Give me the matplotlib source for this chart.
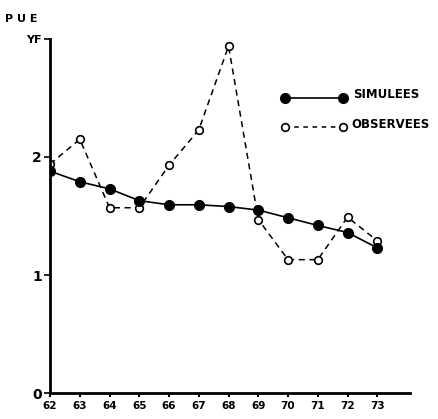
import matplotlib
matplotlib.use("Agg")
import matplotlib.pyplot as plt

years = [62, 63, 64, 65, 66, 67, 68, 69, 70, 71, 72, 73]
year_labels = [str(y) for y in years]
simulees = [1.88, 1.79, 1.73, 1.63, 1.595, 1.595, 1.58, 1.55, 1.485, 1.42, 1.36, 1.23]
observees = [1.94, 2.15, 1.57, 1.57, 1.93, 2.23, 2.94, 1.47, 1.13, 1.13, 1.49, 1.29]
y_ticks = [0, 1, 2, 3]
y_tick_labels = ["0", "1", "2", "YF"]

plt.rcParams["font.family"] = ["DejaVu Sans"]
plt.rcParams["font.weight"] = "bold"

fig = plt.figure(figsize=(4.39, 4.19), dpi=100)
ax = fig.add_axes([0.114, 0.062, 0.82, 0.845])

ax.plot(years, observees, linestyle=(0, (4, 3)), color="black", lw=1.1,
        marker="o", markersize=5.5, markerfacecolor="white",
        markeredgecolor="black", markeredgewidth=1.2, zorder=2)
ax.plot(years, simulees, linestyle="-", color="black", lw=1.2,
        marker="o", markersize=7, markerfacecolor="black",
        markeredgecolor="black", zorder=3)

ax.set_xlim(62, 74.1)
ax.set_ylim(0, 3)
ax.set_xticks(years)
ax.set_xticklabels(year_labels, fontsize=7.5, fontweight="bold")
ax.set_yticks(y_ticks)
ax.set_yticklabels(y_tick_labels, fontsize=10, fontweight="bold")
for lbl in ax.get_yticklabels()[-1:]:
    lbl.set_fontsize(8)
ax.tick_params(axis="x", direction="out", length=3, width=1.5, pad=3)
ax.tick_params(axis="y", direction="out", length=4, width=1.2, pad=2)

for side in ("top", "right"):
    ax.spines[side].set_visible(False)
for side in ("left", "bottom"):
    ax.spines[side].set_linewidth(2)

fig.text(0.012, 0.955, "P U E", fontsize=8, fontweight="bold", ha="left", va="center")

# legend drawn in axes-fraction coordinates
lx0, lx1 = 0.653, 0.814
ax.plot([lx0, lx1], [0.833, 0.833], transform=ax.transAxes, color="black", lw=1.2,
        clip_on=False)
ax.plot([lx0, lx1], [0.833, 0.833], transform=ax.transAxes, linestyle="none",
        marker="o", markersize=7, color="black", clip_on=False)
ax.text(0.843, 0.843, "SIMULEES", transform=ax.transAxes, fontsize=8.5,
        fontweight="bold", va="center", ha="left")
ax.plot([lx0, lx1], [0.751, 0.751], transform=ax.transAxes, color="black", lw=1.1,
        linestyle=(0, (3, 3)), clip_on=False)
ax.plot([lx0, lx1], [0.751, 0.751], transform=ax.transAxes, linestyle="none",
        marker="o", markersize=5.5, markerfacecolor="white", markeredgecolor="black",
        markeredgewidth=1.2, clip_on=False)
ax.text(0.838, 0.759, "OBSERVEES", transform=ax.transAxes, fontsize=8.5,
        fontweight="bold", va="center", ha="left")

fig.savefig("out.png", dpi=100)
